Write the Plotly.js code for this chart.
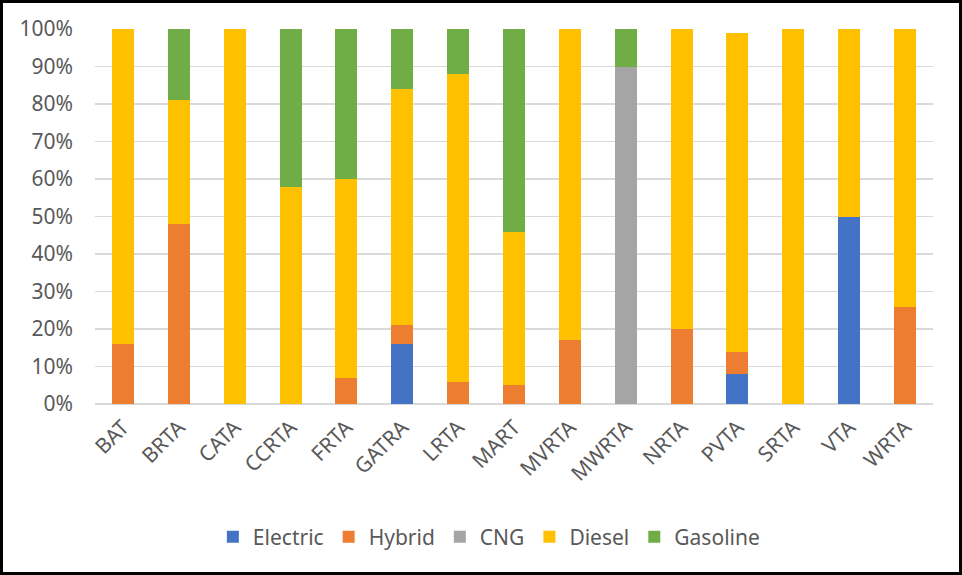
<!DOCTYPE html>
<html>
<head>
<meta charset="utf-8">
<script src="https://cdn.plot.ly/plotly-3.0.1.min.js"></script>
<style>
  html, body { margin: 0; padding: 0; background: #fff; }
  #wrap { position: relative; width: 962px; height: 575px; }
  #chart { position: absolute; left: 0; top: 0; width: 962px; height: 575px; }
  #frame { position: absolute; left: 0; top: 0; width: 962px; height: 575px; box-sizing: border-box; border: 3px solid #000; pointer-events: none; }
</style>
</head>
<body>
<div id="wrap"><div id="chart"></div><div id="frame"></div></div>
<script>
const categories = ["BAT","BRTA","CATA","CCRTA","FRTA","GATRA","LRTA","MART","MVRTA","MWRTA","NRTA","PVTA","SRTA","VTA","WRTA"];
const electric = [0, 0, 0, 0, 0, 16, 0, 0, 0, 0, 0, 8, 0, 50, 0];
const hybrid   = [16, 48, 0, 0, 7, 5, 6, 5, 17, 0, 20, 6, 0, 0, 26];
const cng      = [0, 0, 0, 0, 0, 0, 0, 0, 0, 90, 0, 0, 0, 0, 0];
const diesel   = [84, 33, 100, 58, 53, 63, 82, 41, 83, 0, 80, 85, 100, 50, 74];
const gasoline = [0, 19, 0, 42, 40, 16, 12, 54, 0, 10, 0, 0, 0, 0, 0];
const yTicks = [0,10,20,30,40,50,60,70,80,90,100];

const series = [
  {name: "Electric", y: electric, color: "#4472C4"},
  {name: "Hybrid", y: hybrid, color: "#ED7D31"},
  {name: "CNG", y: cng, color: "#A5A5A5"},
  {name: "Diesel", y: diesel, color: "#FFC000"},
  {name: "Gasoline", y: gasoline, color: "#70AD47"}
];

const traces = series.map(s => ({
  type: "bar",
  name: s.name,
  x: categories,
  y: s.y,
  marker: {color: s.color, line: {width: 0}},
  hoverinfo: "x+y+name"
}));

const font = "Noto Sans, Open Sans, sans-serif";
const layout = {
  width: 962, height: 575,
  barmode: "stack",
  bargap: 0.606,
  paper_bgcolor: "#fff",
  plot_bgcolor: "#fff",
  margin: {l: 95, r: 29, t: 29, b: 171, pad: 0},
  font: {family: font, color: "#595959", size: 21},
  xaxis: {
    type: "category",
    tickangle: -45,
    showgrid: false,
    showline: false,
    ticks: "",
    ticklabelstandoff: 6,
    tickfont: {size: 21, color: "#595959"},
    automargin: false
  },
  yaxis: {
    range: [0, 100],
    tickvals: yTicks,
    ticktext: yTicks.map(v => v + "%"),
    showgrid: true,
    gridcolor: "#D9D9D9",
    gridwidth: 1.5,
    zeroline: true,
    zerolinecolor: "#D9D9D9",
    zerolinewidth: 1.5,
    showline: false,
    ticks: "",
    ticklabelstandoff: 21,
    tickfont: {size: 21, color: "#595959"},
    automargin: false
  },
  showlegend: true,
  legend: {
    orientation: "h",
    x: 0.47, xanchor: "center",
    y: -0.355, yanchor: "middle",
    font: {size: 21, color: "#595959"},
    traceorder: "normal",
    itemwidth: 30
  }
};

Plotly.newPlot("chart", traces, layout, {displayModeBar: false, staticPlot: true});
</script>
</body>
</html>
